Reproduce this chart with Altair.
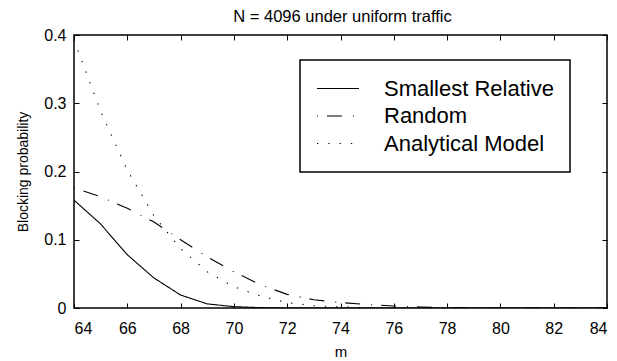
import altair as alt
import pandas as pd

# ---- data ----
m_values = list(range(64, 85))
smallest_relative = [0.158, 0.123, 0.078, 0.044, 0.019, 0.006, 0.002, 0.0005,
                     0, 0, 0, 0, 0, 0, 0, 0, 0, 0, 0, 0, 0]
random_sel = [0.176, 0.163, 0.146, 0.126, 0.100, 0.075, 0.053, 0.034, 0.020,
              0.012, 0.008, 0.005, 0.003, 0.0015, 0.0007, 0, 0, 0, 0, 0, 0]
analytical = [0.393, 0.288, 0.202, 0.135, 0.087, 0.053, 0.031, 0.0176, 0.0078,
              0.0034, 0.0015, 0.0006, 0.0002, 0, 0, 0, 0, 0, 0, 0, 0]
series_names = ["Smallest Relative", "Random", "Analytical Model"]
x_ticks = list(range(64, 85, 2))
y_ticks = [0, 0.1, 0.2, 0.3, 0.4]
title_text = "N = 4096 under uniform traffic"
x_title = "m"
y_title = "Blocking probability"

rows = []
for name, vals in zip(series_names, [smallest_relative, random_sel, analytical]):
    for m, v in zip(m_values, vals):
        rows.append({"m": m, "value": v, "series": name})
df = pd.DataFrame(rows)
title_df = pd.DataFrame({"t": [title_text]})

FONT = "Liberation Sans"
W, H = 533, 273
x_scale = alt.Scale(domain=[64, 84], nice=False, zero=False)
y_scale = alt.Scale(domain=[0, 0.4], nice=False)

base = alt.Chart(df)

lines = base.mark_line(strokeWidth=1.1, color="black", clip=True).encode(
    x=alt.X("m:Q", scale=x_scale, axis=alt.Axis(
        orient="bottom", values=x_ticks, ticks=False, tickSize=0, domain=False,
        grid=False, labelFontSize=16, labelPadding=12, labelColor="black",
        title=x_title, titleFontSize=15, titleFontWeight="normal",
        titlePadding=8, titleColor="black")),
    y=alt.Y("value:Q", scale=y_scale, axis=alt.Axis(
        orient="left", values=y_ticks, format=".1~f", ticks=False, tickSize=0,
        domain=False, grid=False, labelFontSize=16, labelPadding=8,
        labelColor="black", title=y_title, titleFontSize=14,
        titleFontWeight="normal", titlePadding=13, titleColor="black")),
    strokeDash=alt.StrokeDash("series:N", scale=alt.Scale(
        domain=series_names, range=[[1, 0], [1, 9, 15, 11], [1.3, 10]]),
        legend=alt.Legend(
            orient="none", legendX=226, legendY=25, title=None,
            symbolType="stroke", symbolSize=1764, symbolStrokeWidth=1.1,
            symbolStrokeColor="black", labelFontSize=22, labelLimit=400,
            labelOffset=24, padding=16, rowPadding=2.5, clipHeight=25,
            strokeColor="black", labelColor="black",
            labelExpr="datum.label + ' '")),
    order="m:Q",
)

ticks_bl = base.mark_point(opacity=0).encode(
    x=alt.X("m:Q", scale=x_scale, axis=alt.Axis(
        orient="bottom", offset=-5, values=x_ticks, labels=False, domain=False,
        grid=False, ticks=True, tickSize=5, tickColor="black", tickWidth=1,
        title=None)),
    y=alt.Y("value:Q", scale=y_scale, axis=alt.Axis(
        orient="left", offset=-5, values=y_ticks, labels=False, domain=False,
        grid=False, ticks=True, tickSize=5, tickColor="black", tickWidth=1,
        title=None)),
)

ticks_tr = base.mark_point(opacity=0).encode(
    x=alt.X("m:Q", scale=x_scale, axis=alt.Axis(
        orient="top", offset=-5, values=x_ticks, labels=False, domain=False,
        grid=False, ticks=True, tickSize=5, tickColor="black", tickWidth=1,
        title=None)),
    y=alt.Y("value:Q", scale=y_scale, axis=alt.Axis(
        orient="right", offset=-5, values=y_ticks, labels=False, domain=False,
        grid=False, ticks=True, tickSize=5, tickColor="black", tickWidth=1,
        title=None)),
)

title_layer = alt.Chart(title_df).mark_text(
    fontSize=16.5, font=FONT, color="black", align="center",
    baseline="alphabetic"
).encode(text="t:N", x=alt.value(W / 2 + 2), y=alt.value(-13))

chart = alt.layer(lines, ticks_bl, ticks_tr, title_layer).resolve_axis(
    x="independent", y="independent"
).properties(
    width=W, height=H,
    autosize=alt.AutoSizeParams(type="none"),
    padding={"left": 74, "top": 35, "right": 10, "bottom": 53},
).configure(font=FONT, background="white").configure_view(
    stroke="black", strokeWidth=1.5
).configure_legend(strokeWidth=1.5)

chart.save("out.html", embed_options={"renderer": "svg", "actions": False})
